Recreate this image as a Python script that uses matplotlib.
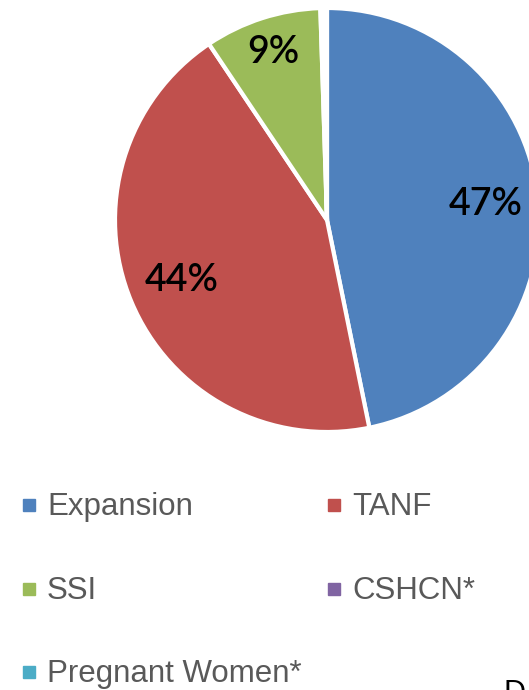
import matplotlib
matplotlib.use("Agg")
import matplotlib.pyplot as plt
import numpy as np

categories = ["Expansion", "TANF", "SSI", "CSHCN*", "Pregnant Women*"]
values = [46.8, 43.8, 8.9, 0.3, 0.2]
pct_labels = ["47%", "44%", "9%", "", ""]
colors = ["#4F81BD", "#C0504D", "#9BBB59", "#8064A2", "#4BACC6"]
label_dist = [0.75, 0.745, 0.83, 0.7, 0.7]

W, H = 529, 690
fig = plt.figure(figsize=(W / 100, H / 100), dpi=100)
ax = fig.add_axes([0, 0, 1, 1])
ax.set_xlim(0, W)
ax.set_ylim(0, H)
ax.axis("off")

cx, cy, r = 327, H - 220, 212
wedges, _ = ax.pie(values, colors=colors, startangle=90, counterclock=False,
                   center=(cx, cy), radius=r,
                   wedgeprops=dict(edgecolor="white", linewidth=3))
ax.set_xlim(0, W)
ax.set_ylim(0, H)
ax.set_aspect("equal")

for w, lab, d in zip(wedges, pct_labels, label_dist):
    if not lab:
        continue
    ang = np.deg2rad((w.theta1 + w.theta2) / 2)
    x = cx + d * r * np.cos(ang)
    y = cy + d * r * np.sin(ang)
    ax.text(x, y, lab, ha="center", va="center", fontsize=27,
            family="Lato", fontweight="semibold", color="black")

# legend, row-major
cols_x = [29, 334]
rows_y = [505, 589, 672]
for i, (cat, col) in enumerate(zip(categories, colors)):
    rr, cc = divmod(i, 2)
    mx, my = cols_x[cc], H - rows_y[rr]
    ax.plot([mx], [my], marker="s", markersize=8, color=col, linestyle="none")
    ax.text(mx + 18, my - 10, cat, ha="left", va="baseline", fontsize=22.5,
            family="Liberation Sans", color="#595959")

ax.text(503, -12, "D", ha="left", va="baseline", fontsize=22,
        family="Liberation Sans", color="black", clip_on=False)

fig.savefig("out.png", dpi=100)
